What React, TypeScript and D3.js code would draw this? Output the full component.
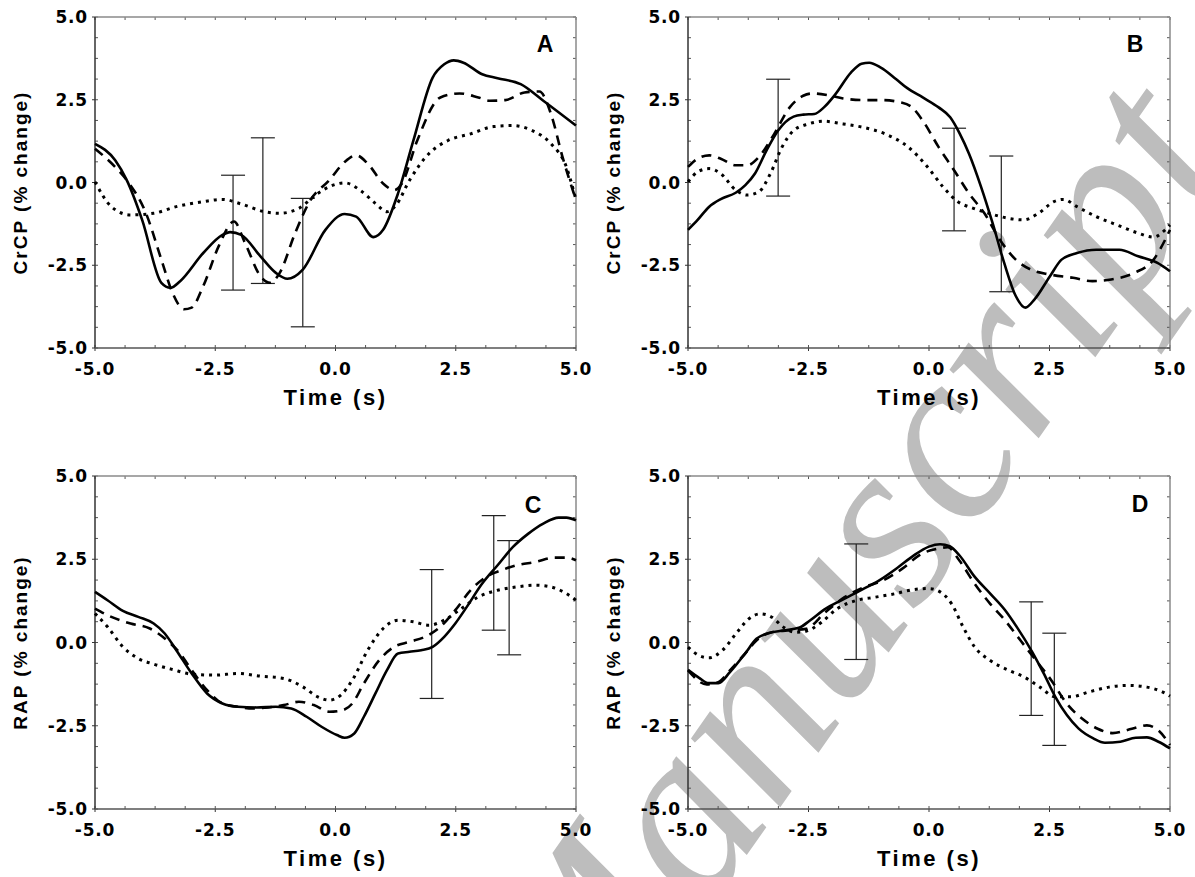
import React from "react";
import * as d3 from "d3";

type P = [number, number];
type E = [number, number, number];

// ---------- Panel A : CrCP ----------
const A_SOLID: P[] = [[-5,1.17],[-4.58,0.67],[-4.34,0.07],[-4.02,-1.13],[-3.62,-3.03],[-3.43,-3.18],[-3.23,-2.98],[-2.75,-2.13],[-2.35,-1.58],[-2.19,-1.5],[-1.96,-1.58],[-1.56,-2.23],[-1.24,-2.73],[-1.0,-2.91],[-0.68,-2.63],[-0.21,-1.43],[0.19,-0.95],[0.43,-1.03],[0.79,-1.65],[0.99,-1.43],[1.3,-0.33],[1.62,1.27],[2.02,3.17],[2.26,3.57],[2.46,3.69],[2.66,3.62],[3.05,3.27],[3.37,3.15],[3.85,2.97],[4.32,2.47],[5,1.72]];
const A_DASHED: P[] = [[-5,1.02],[-4.58,0.47],[-4.34,0.07],[-3.94,-0.93],[-3.62,-2.33],[-3.39,-3.33],[-3.15,-3.83],[-2.99,-3.78],[-2.75,-3.13],[-2.43,-1.93],[-2.11,-1.18],[-1.88,-1.83],[-1.56,-2.83],[-1.36,-3.03],[-1.16,-2.73],[-0.84,-1.53],[-0.52,-0.53],[-0.13,0.07],[0.19,0.62],[0.43,0.82],[0.67,0.57],[0.99,-0.03],[1.22,-0.23],[1.38,-0.03],[1.7,1.27],[2.18,2.57],[2.58,2.69],[2.97,2.57],[3.21,2.47],[3.53,2.49],[3.93,2.72],[4.24,2.75],[4.48,2.07],[4.72,0.77],[5,-0.53]];
const A_DOTTED: P[] = [[-5,0.02],[-4.66,-0.73],[-4.26,-0.98],[-3.78,-0.93],[-3.31,-0.73],[-2.75,-0.58],[-2.35,-0.51],[-1.96,-0.65],[-1.48,-0.88],[-1.16,-0.93],[-0.76,-0.78],[-0.37,-0.33],[-0.05,-0.08],[0.19,-0.01],[0.51,-0.23],[0.83,-0.63],[1.07,-0.88],[1.26,-0.68],[1.54,0.07],[1.94,0.87],[2.34,1.27],[2.81,1.47],[3.29,1.69],[3.69,1.72],[4.09,1.57],[4.48,1.17],[4.8,0.47],[5,-0.53]];
const A_ERR: E[] = [[-2.13,-3.25,0.22],[-1.51,-3.05,1.35],[-0.68,-4.36,-0.48]];

// ---------- Panel B : CrCP ----------
const B_SOLID: P[] = [[-5,-1.43],[-4.8,-1.13],[-4.56,-0.73],[-4.32,-0.5],[-4.01,-0.31],[-3.81,-0.08],[-3.61,0.27],[-3.37,0.97],[-3.13,1.57],[-2.81,1.99],[-2.61,2.05],[-2.38,2.07],[-2.18,2.27],[-1.94,2.67],[-1.62,3.32],[-1.4,3.59],[-1.24,3.62],[-1.0,3.47],[-0.68,3.12],[-0.45,2.85],[-0.13,2.57],[0.2,2.27],[0.44,1.97],[0.64,1.47],[0.83,0.87],[1.08,-0.13],[1.32,-1.23],[1.56,-2.43],[1.8,-3.43],[2.0,-3.78],[2.19,-3.53],[2.51,-2.83],[2.75,-2.33],[3.07,-2.13],[3.47,-2.03],[3.95,-2.03],[4.34,-2.23],[4.74,-2.43],[5,-2.68]];
const B_DASHED: P[] = [[-5,0.47],[-4.8,0.72],[-4.56,0.82],[-4.32,0.72],[-4.01,0.52],[-3.77,0.52],[-3.53,0.77],[-3.21,1.47],[-2.89,2.27],[-2.61,2.62],[-2.42,2.69],[-2.1,2.64],[-1.78,2.54],[-1.38,2.49],[-0.99,2.49],[-0.59,2.42],[-0.35,2.27],[-0.13,1.87],[0.2,1.07],[0.52,0.37],[0.83,-0.33],[1.15,-0.93],[1.47,-1.73],[1.8,-2.33],[2.11,-2.63],[2.51,-2.78],[2.99,-2.88],[3.39,-2.98],[3.78,-2.93],[4.26,-2.73],[4.66,-2.33],[4.9,-1.73],[5,-1.43]];
const B_DOTTED: P[] = [[-5,0.02],[-4.8,0.32],[-4.56,0.42],[-4.32,0.27],[-4.01,-0.23],[-3.77,-0.38],[-3.53,-0.28],[-3.29,0.27],[-3.05,1.07],[-2.81,1.57],[-2.5,1.77],[-2.18,1.85],[-1.78,1.77],[-1.38,1.67],[-0.91,1.47],[-0.43,1.07],[-0.03,0.47],[0.29,-0.13],[0.6,-0.58],[0.92,-0.78],[1.24,-0.93],[1.64,-1.08],[1.96,-1.13],[2.27,-0.93],[2.59,-0.58],[2.79,-0.51],[3.07,-0.73],[3.47,-1.03],[3.95,-1.31],[4.34,-1.53],[4.66,-1.65],[4.9,-1.43],[5,-1.28]];
const B_ERR: E[] = [[-3.13,-0.41,3.12],[0.52,-1.46,1.64],[1.5,-3.3,0.8]];

// ---------- Panel C : RAP ----------
const C_SOLID: P[] = [[-5,1.52],[-4.74,1.27],[-4.42,0.95],[-4.1,0.77],[-3.78,0.57],[-3.55,0.27],[-3.31,-0.23],[-2.99,-0.93],[-2.67,-1.53],[-2.35,-1.83],[-2.03,-1.93],[-1.64,-1.95],[-1.24,-1.93],[-0.92,-1.98],[-0.6,-2.23],[-0.29,-2.53],[0.03,-2.78],[0.19,-2.86],[0.39,-2.73],[0.59,-2.23],[0.83,-1.53],[1.07,-0.83],[1.3,-0.33],[1.54,-0.28],[1.78,-0.23],[2.02,-0.13],[2.26,0.17],[2.49,0.57],[2.73,1.07],[3.05,1.77],[3.37,2.32],[3.69,2.87],[4.01,3.27],[4.32,3.57],[4.64,3.75],[4.8,3.75],[5,3.67]];
const C_DASHED: P[] = [[-5,1.02],[-4.66,0.77],[-4.26,0.57],[-3.86,0.42],[-3.55,0.12],[-3.23,-0.33],[-2.99,-0.83],[-2.67,-1.43],[-2.35,-1.83],[-2.03,-1.93],[-1.72,-1.98],[-1.4,-1.95],[-1.08,-1.88],[-0.76,-1.78],[-0.45,-1.88],[-0.13,-2.08],[0.11,-2.05],[0.35,-1.83],[0.59,-1.23],[0.91,-0.53],[1.22,-0.13],[1.54,0.02],[1.86,0.17],[2.18,0.47],[2.49,0.97],[2.81,1.57],[3.13,1.97],[3.45,2.17],[3.77,2.32],[4.16,2.42],[4.56,2.55],[4.8,2.55],[5,2.47]];
const C_DOTTED: P[] = [[-5,0.87],[-4.74,0.47],[-4.42,-0.13],[-4.1,-0.48],[-3.78,-0.65],[-3.39,-0.81],[-2.99,-0.95],[-2.51,-0.98],[-2.03,-0.93],[-1.56,-1.01],[-1.08,-1.08],[-0.68,-1.33],[-0.37,-1.63],[-0.13,-1.73],[0.11,-1.58],[0.35,-1.13],[0.67,-0.23],[0.99,0.42],[1.3,0.67],[1.62,0.62],[1.94,0.52],[2.26,0.67],[2.57,0.97],[2.97,1.37],[3.37,1.57],[3.77,1.67],[4.16,1.72],[4.48,1.67],[4.8,1.47],[5,1.27]];
const C_ERR: E[] = [[2.0,-1.68,2.19],[3.29,0.37,3.81],[3.61,-0.37,3.06]];

// ---------- Panel D : RAP ----------
const D_SOLID: P[] = [[-5,-0.82],[-4.77,-1.06],[-4.57,-1.22],[-4.37,-1.22],[-4.13,-0.89],[-3.82,-0.34],[-3.58,0.11],[-3.34,0.28],[-3.02,0.36],[-2.7,0.44],[-2.47,0.66],[-2.15,1.01],[-1.83,1.26],[-1.43,1.56],[-1.04,1.86],[-0.64,2.26],[-0.32,2.61],[0.0,2.88],[0.23,2.95],[0.43,2.89],[0.63,2.62],[0.95,1.97],[1.27,1.47],[1.58,0.97],[1.82,0.47],[2.14,-0.28],[2.38,-0.93],[2.62,-1.63],[2.86,-2.18],[3.1,-2.58],[3.41,-2.88],[3.65,-3.01],[3.97,-2.98],[4.29,-2.86],[4.52,-2.85],[4.76,-2.98],[5,-3.18]];
const D_DASHED: P[] = [[-5,-0.84],[-4.61,-1.26],[-4.37,-1.19],[-4.13,-0.84],[-3.82,-0.34],[-3.58,0.06],[-3.26,0.31],[-2.94,0.36],[-2.55,0.41],[-2.15,0.91],[-1.75,1.36],[-1.35,1.66],[-0.96,1.86],[-0.56,2.21],[-0.16,2.66],[0.16,2.81],[0.39,2.86],[0.63,2.46],[0.95,1.76],[1.27,1.16],[1.58,0.66],[1.9,0.06],[2.22,-0.54],[2.54,-1.14],[2.86,-1.84],[3.18,-2.29],[3.5,-2.59],[3.81,-2.72],[4.21,-2.59],[4.52,-2.49],[4.76,-2.64],[5,-3.08]];
const D_DOTTED: P[] = [[-5,-0.14],[-4.77,-0.39],[-4.57,-0.46],[-4.29,-0.24],[-3.98,0.31],[-3.74,0.71],[-3.5,0.86],[-3.26,0.76],[-3.02,0.46],[-2.78,0.31],[-2.55,0.34],[-2.23,0.61],[-1.91,1.01],[-1.51,1.26],[-1.12,1.36],[-0.72,1.46],[-0.32,1.59],[0.0,1.62],[0.23,1.52],[0.47,1.16],[0.71,0.46],[0.95,-0.14],[1.27,-0.54],[1.66,-0.84],[1.98,-1.04],[2.3,-1.34],[2.62,-1.63],[2.94,-1.63],[3.33,-1.48],[3.73,-1.34],[4.13,-1.29],[4.52,-1.34],[4.84,-1.48],[5,-1.61]];
const D_ERR: E[] = [[-1.51,-0.51,2.96],[2.12,-2.19,1.22],[2.6,-3.09,0.28]];

const TICK_VALUES = [-5, -2.5, 0, 2.5, 5];
const TICK_LABELS = ["-5.0", "-2.5", "0.0", "2.5", "5.0"];
const MINOR_TICKS = d3.range(-5, 5.001, 0.625);
const X_TITLE = "Time (s)";
const WATERMARK = "Manuscript";

interface PanelDef {
  letter: string;
  yTitle: string;
  solid: P[];
  dashed: P[];
  dotted: P[];
  err: E[];
  L: number; R: number; T: number; B: number;
  letterDx: number; letterDy: number;
  xTitleY: number;
}

const PANELS: PanelDef[] = [
  { letter: "A", yTitle: "CrCP (% change)", solid: A_SOLID, dashed: A_DASHED, dotted: A_DOTTED, err: A_ERR, L: 95, R: 576, T: 17, B: 348, letterDx: -31, letterDy: 35, xTitleY: 405 },
  { letter: "B", yTitle: "CrCP (% change)", solid: B_SOLID, dashed: B_DASHED, dotted: B_DOTTED, err: B_ERR, L: 688, R: 1170, T: 17, B: 348, letterDx: -35, letterDy: 35, xTitleY: 405 },
  { letter: "C", yTitle: "RAP (% change)", solid: C_SOLID, dashed: C_DASHED, dotted: C_DOTTED, err: C_ERR, L: 95, R: 576, T: 476, B: 809, letterDx: -43, letterDy: 37, xTitleY: 866 },
  { letter: "D", yTitle: "RAP (% change)", solid: D_SOLID, dashed: D_DASHED, dotted: D_DOTTED, err: D_ERR, L: 688, R: 1170, T: 476, B: 809, letterDx: -30, letterDy: 36, xTitleY: 866 },
];

const SANS = "'Liberation Sans', Arial, sans-serif";
const TICKFONT = "'DejaVu Sans', sans-serif";

function Panel({ p }: { p: PanelDef }) {
  const x = d3.scaleLinear().domain([-5, 5]).range([p.L, p.R]);
  const y = d3.scaleLinear().domain([-5, 5]).range([p.B, p.T]);
  const line = d3.line<P>().x(d => x(d[0])).y(d => y(d[1])).curve(d3.curveMonotoneX);
  const midY = (p.T + p.B) / 2;
  const midX = (p.L + p.R) / 2;
  return (
    <g>
      {MINOR_TICKS.map((v, i) => (
        <g key={"mt" + i} stroke="#555" strokeWidth={1}>
          <line x1={x(v)} x2={x(v)} y1={p.B} y2={p.B - 3} />
          <line x1={x(v)} x2={x(v)} y1={p.T} y2={p.T + 3} />
          <line x1={p.L} x2={p.L + 3} y1={y(v)} y2={y(v)} />
          <line x1={p.R} x2={p.R - 3} y1={y(v)} y2={y(v)} />
        </g>
      ))}
      {TICK_VALUES.map((v, i) => (
        <g key={"Mt" + i} stroke="#333" strokeWidth={1}>
          <line x1={p.L} x2={p.L - 3} y1={y(v)} y2={y(v)} />
          <line x1={x(v)} x2={x(v)} y1={p.B} y2={p.B + 3} />
        </g>
      ))}
      <line x1={p.L} x2={p.R} y1={p.T} y2={p.T} stroke="#8a8a8a" strokeWidth={1.5} />
      <line x1={p.R} x2={p.R} y1={p.T} y2={p.B} stroke="#8a8a8a" strokeWidth={1.5} />
      <line x1={p.L} x2={p.L} y1={p.T} y2={p.B} stroke="#333" strokeWidth={1.5} />
      <line x1={p.L} x2={p.R} y1={p.B} y2={p.B} stroke="#555" strokeWidth={1.5} />
      {TICK_VALUES.map((v, i) => (
        <text key={"yl" + i} x={p.L - 7} y={y(v)} dy="0.36em" textAnchor="end"
          fontFamily={TICKFONT} fontWeight="bold" fontSize={17} letterSpacing={0.8} fill="#000">{TICK_LABELS[i]}</text>
      ))}
      {TICK_VALUES.map((v, i) => (
        <text key={"xl" + i} x={x(v)} y={p.B + 27} textAnchor="middle"
          fontFamily={TICKFONT} fontWeight="bold" fontSize={17} letterSpacing={0.8} fill="#000">{TICK_LABELS[i]}</text>
      ))}
      <text x={midX} y={p.xTitleY} textAnchor="middle" fontFamily={SANS} fontWeight="bold"
        fontSize={22} letterSpacing={2.5} fill="#000">{X_TITLE}</text>
      <text transform={`translate(${p.L - 75},${midY}) rotate(-90)`} textAnchor="middle" dy="0.36em"
        fontFamily={SANS} fontWeight="bold" fontSize={19} letterSpacing={2} fill="#000">{p.yTitle}</text>
      <text x={p.R + p.letterDx} y={p.T + p.letterDy} textAnchor="middle" fontFamily={SANS}
        fontWeight="bold" fontSize={23} fill="#000">{p.letter}</text>
      {p.err.map((e, i) => (
        <g key={"e" + i} stroke="#222" strokeWidth={1.2}>
          <line x1={x(e[0])} x2={x(e[0])} y1={y(e[1])} y2={y(e[2])} />
          <line x1={x(e[0]) - 12} x2={x(e[0]) + 12} y1={y(e[1])} y2={y(e[1])} />
          <line x1={x(e[0]) - 12} x2={x(e[0]) + 12} y1={y(e[2])} y2={y(e[2])} />
        </g>
      ))}
      <path d={line(p.dotted) || ""} fill="none" stroke="#000" strokeWidth={3} strokeDasharray="3,5" />
      <path d={line(p.dashed) || ""} fill="none" stroke="#000" strokeWidth={2.6} strokeDasharray="10,7" />
      <path d={line(p.solid) || ""} fill="none" stroke="#000" strokeWidth={2.6} />
    </g>
  );
}

export default function App() {
  return (
    <svg width={1195} height={877} style={{ position: "absolute", left: 0, top: 0, background: "#fff" }}>
      <rect x={0} y={0} width={1195} height={877} fill="#fff" />
      <text transform="translate(588,1082) rotate(-55)" fontFamily="'Liberation Serif', 'Times New Roman', serif"
        fontStyle="italic" fontSize={245} fill="#bdbdbd">{WATERMARK}</text>
      {PANELS.map(p => <Panel key={p.letter} p={p} />)}
    </svg>
  );
}
